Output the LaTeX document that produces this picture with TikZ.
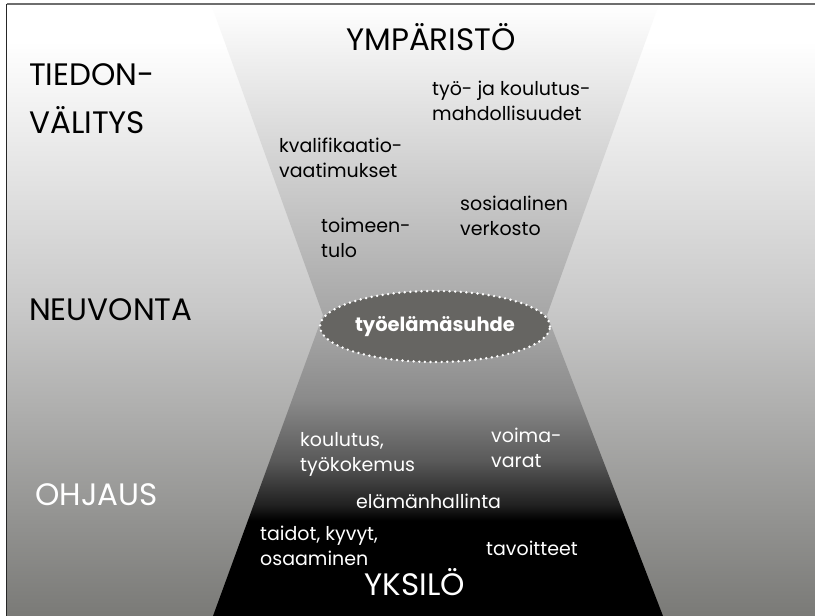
\documentclass[tikz,border=0pt]{standalone}
\usepackage{fontspec}
\setmainfont{Poppins}
\usetikzlibrary{shapes.geometric}

\definecolor{bgmid}{HTML}{C8C8C8}
\definecolor{bgbot}{HTML}{7A7A77}
\definecolor{upbot}{HTML}{A6A6A6}
\definecolor{lowA}{HTML}{ABABAB}
\definecolor{lowB}{HTML}{8A8A8A}
\definecolor{lowC}{HTML}{5A5A5A}
\definecolor{lowD}{HTML}{202020}
\definecolor{ellfill}{HTML}{666562}
\definecolor{framegray}{HTML}{6E6E6E}

\pgfdeclareverticalshading{bgshade}{100bp}{color(0bp)=(bgbot); color(25bp)=(bgbot); color(50bp)=(bgmid); color(72bp)=(white); color(100bp)=(white)}
\pgfdeclareverticalshading{upfunnel}{100bp}{color(0bp)=(upbot); color(25bp)=(upbot); color(75bp)=(white); color(100bp)=(white)}
\pgfdeclareverticalshading{lowfunnel}{100bp}{color(0bp)=(black); color(25bp)=(black); color(40.9bp)=(black); color(43.4bp)=(lowD); color(50.9bp)=(lowC); color(60.9bp)=(lowB); color(75bp)=(lowA); color(100bp)=(lowA)}

\begin{document}
\begin{tikzpicture}[x=1pt,y=-1pt,
  bigcap/.style={font=\fontsize{31}{33}\selectfont,anchor=base west,inner sep=0},
  smalltxt/.style={font=\fontsize{19}{25}\selectfont,anchor=base west,inner sep=0,align=left}]
\fill[white] (0,0) rectangle (815,616);
\useasboundingbox (0,0) rectangle (815,616);
\shade[shading=bgshade] (6.5,4) rectangle (815,616);
\shade[shading=upfunnel] (211,4) -- (659,4) -- (547,315) -- (323,315) -- cycle;
\shade[shading=lowfunnel] (323,315) -- (547,315) -- (663,616) -- (213,616) -- cycle;
\draw[framegray,line width=1.5pt] (6.5,4) -- (815,4);
\draw[black!85,line width=1.2pt] (6.5,4) -- (6.5,616);

\node[ellipse,fill=ellfill,draw=white,line width=2.7pt,dash pattern=on 0pt off 5.6pt,line cap=round,
  minimum width=230pt,minimum height=71pt,inner sep=0,text=white,font=\fontsize{19.5}{24}\selectfont\bfseries] (rel) at (435,326.5) {työelämäsuhde};

% ymparisto ja tiedonvalitys
\node[bigcap,anchor=base] (ymp) at (431,50) {YMPÄRISTÖ};
\node[bigcap] (tie) at (29,85) {TIEDON-};
\node[bigcap] (val) at (29,133) {VÄLITYS};
\node[bigcap] (neu) at (29,320) {NEUVONTA};
\node[bigcap,text=white] (ohj) at (35,505) {OHJAUS};
\node[bigcap,text=white,anchor=base] (yks) at (415,595) {YKSILÖ};

% base = baseline of last line
\node[smalltxt] (tyo) at (432,120) {työ- ja koulutus-\\mahdollisuudet};
\node[smalltxt] (kva) at (279,177) {kvalifikaatio-\\vaatimukset};
\node[smalltxt] (sos) at (460,235) {sosiaalinen\\verkosto};
\node[smalltxt] (toi) at (321,257) {toimeen-\\tulo};

\node[smalltxt,text=white] (kou) at (300,471) {koulutus,\\työkokemus};
\node[smalltxt,text=white] (voi) at (491,467) {voima-\\varat};
\node[smalltxt,text=white] (ela) at (356,508) {elämänhallinta};
\node[smalltxt,text=white] (tai) at (260,565) {taidot, kyvyt,\\osaaminen};
\node[smalltxt,text=white] (tav) at (486,555) {tavoitteet};
\end{tikzpicture}
\end{document}
